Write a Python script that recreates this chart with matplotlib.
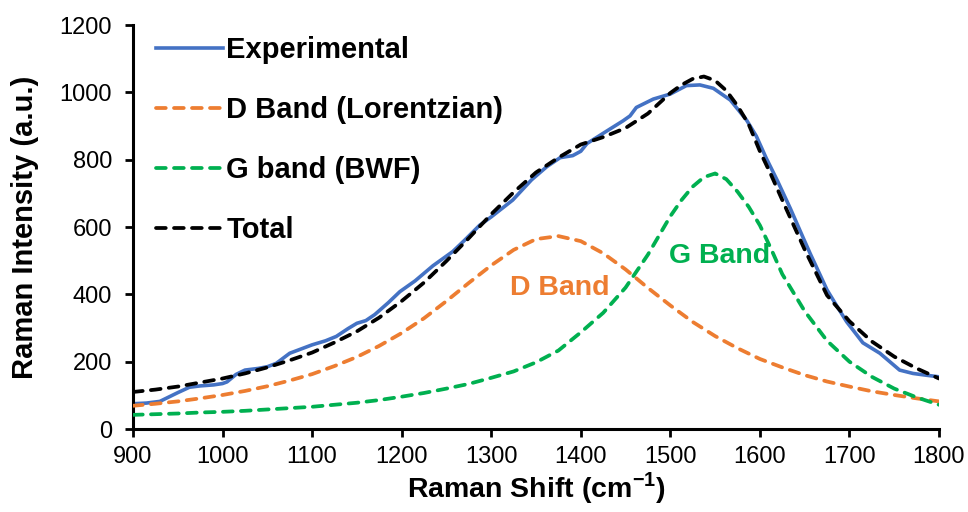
import matplotlib
matplotlib.use("Agg")
import matplotlib.pyplot as plt

plt.rcParams['font.family'] = ['Liberation Sans', 'DejaVu Sans']
plt.rcParams['mathtext.fontset'] = 'custom'
plt.rcParams['mathtext.rm'] = 'Liberation Sans'
plt.rcParams['mathtext.bf'] = 'Liberation Sans:bold'

# espectro medido
exp_x = [900, 915, 930, 940, 950, 963, 975, 990, 1000, 1005, 1015, 1025, 1040, 1050,
         1060, 1075, 1090, 1100, 1115, 1127, 1140, 1150, 1160, 1170, 1185, 1198, 1215,
         1235, 1257, 1270, 1287, 1300, 1324, 1345, 1362, 1377, 1391, 1400, 1407, 1429,
         1447, 1455, 1462, 1481, 1500, 1518, 1533, 1548, 1567, 1585, 1596, 1607, 1620,
         1634, 1648, 1656, 1675, 1686, 1697, 1715, 1734, 1756, 1771, 1785, 1800]
exp_y = [75, 77, 82, 95, 108, 124, 128, 131, 135, 140, 162, 175, 180, 185,
         195, 225, 240, 250, 262, 275, 298, 314, 322, 340, 375, 408, 440,
         485, 527, 560, 605, 630, 680, 740, 779, 806, 812, 825, 848, 885,
         915, 930, 955, 980, 995, 1020, 1022, 1012, 977, 918, 870, 805, 735,
         655, 570, 522, 413, 365, 318, 256, 225, 175, 165, 160, 155]

# banda D (ajuste Lorentziano)
d_x = [900, 925, 950, 975, 1000, 1025, 1050, 1075, 1100, 1125, 1150, 1175, 1200,
       1225, 1250, 1275, 1300, 1325, 1350, 1375, 1400, 1425, 1450, 1475, 1500,
       1525, 1550, 1575, 1600, 1625, 1650, 1675, 1700, 1725, 1750, 1775, 1800]
d_y = [69, 75, 82, 91, 101, 113, 127, 144, 163, 187, 214, 247, 285,
       329, 380, 434, 486, 532, 564, 573, 558, 522, 474, 419, 367,
       318, 276, 240, 208, 183, 160, 141, 126, 112, 101, 91, 82]

# banda G (ajuste BWF)
g_x = [900, 925, 950, 975, 1000, 1025, 1050, 1075, 1100, 1125, 1150, 1175, 1200,
       1225, 1250, 1275, 1300, 1325, 1350, 1375, 1400, 1425, 1450, 1475, 1500,
       1512.5, 1525, 1537.5, 1550, 1562.5, 1575, 1587.5, 1600, 1612.5, 1625, 1650,
       1675, 1700, 1725, 1750, 1775, 1800]
g_y = [42, 44, 46, 49, 51, 54, 58, 62, 66, 72, 78, 86, 96,
       107, 120, 134, 152, 171, 198, 233, 287, 345, 420, 518, 632,
       680, 720, 748, 759, 742, 705, 660, 605, 535, 460, 350,
       262, 200, 155, 120, 94, 72]

# ajuste total
tot_x = g_x
tot_y = [110, 117, 126, 138, 150, 165, 183, 204, 227, 257, 290, 331, 380,
         435, 499, 567, 638, 703, 762, 806, 845, 867, 894, 937, 998,
         1022, 1040, 1047, 1035, 1005, 960, 905, 825, 755, 680, 533,
         397, 320, 260, 215, 180, 150]

fig = plt.figure(figsize=(9.68, 5.12), dpi=100)
ax = fig.add_axes([133/968, 1 - 429/512, (939 - 133)/968, (429 - 25)/512])

dash = dict(linestyle=(0, (2.6, 2.2)), linewidth=2.7, dash_capstyle='round')
ax.plot(exp_x, exp_y, color='#4472C4', linewidth=2.6, label='Experimental', zorder=2)
ax.plot(d_x, d_y, color='#ED7D31', label='D Band (Lorentzian)', zorder=3, **dash)
ax.plot(g_x, g_y, color='#00B050', label='G band (BWF)', zorder=3, **dash)
ax.plot(tot_x, tot_y, color='black', label='Total', zorder=4, **dash)

ax.text(1377, 419, 'D Band', color='#ED7D31', fontsize=20.5, fontweight='bold',
        ha='center', va='center')
ax.text(1555, 514, 'G Band', color='#00B050', fontsize=20.5, fontweight='bold',
        ha='center', va='center')

ax.set_xlim(900, 1800)
ax.set_ylim(0, 1200)
ax.set_xticks(range(900, 1801, 100))
ax.set_yticks(range(0, 1201, 200))
ax.tick_params(labelsize=17, width=2, length=6, direction='out', color='black')
ax.tick_params(axis='x', pad=6)
ax.tick_params(axis='y', pad=9)

for s in ['top', 'right']:
    ax.spines[s].set_visible(False)
for s in ['left', 'bottom']:
    ax.spines[s].set_linewidth(2.2)

ax.set_xlabel('Raman Shift (cm$^{\\mathbf{-1}}$)', fontsize=20.5, fontweight='bold')
ax.set_ylabel('Raman Intensity (a.u.)', fontsize=21, fontweight='bold')
ax.xaxis.set_label_coords(0.5, -0.102)
ax.yaxis.set_label_coords(-0.117, 0.5)

leg = ax.legend(loc='upper left', bbox_to_anchor=(0.0, 1.03), frameon=False,
                prop={'weight': 'bold', 'size': 21}, handlelength=2.3,
                handletextpad=0.1, labelspacing=1.1, borderaxespad=0.4)

fig.savefig('out.png', dpi=100)
